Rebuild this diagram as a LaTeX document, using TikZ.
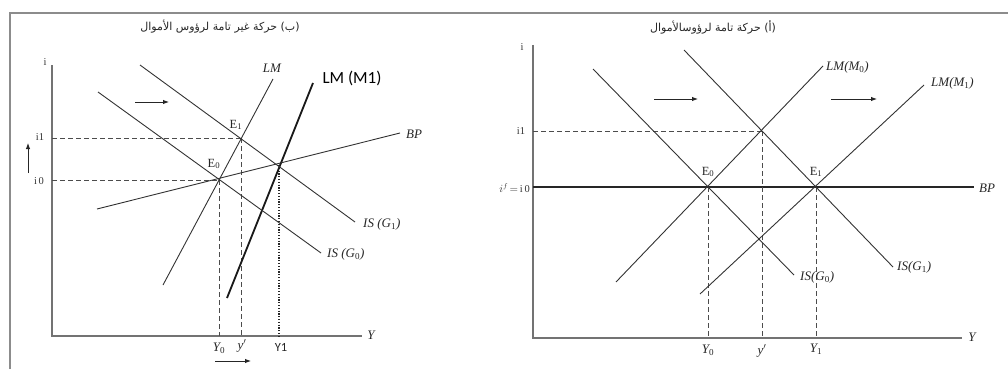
\documentclass[tikz,border=0pt]{standalone}
\usepackage{fontspec}
\setmainfont{Liberation Serif}
\newfontfamily\sansf{Carlito}
\newfontfamily\arabicfont[Script=Arabic]{DejaVu Sans}
\TeXXeTstate=1
\usetikzlibrary{arrows.meta}
\newcommand{\sbu}[1]{\textsubscript{\upshape #1}}
\tikzset{
  frameline/.style={draw=black!45, line width=1.6pt},
  axisline/.style={draw=black!55, line width=1.3pt},
  curve/.style={draw=black!80, line width=0.9pt},
  thickcurve/.style={draw=black!90, line width=1.8pt},
  dashline/.style={draw=black!70, line width=0.8pt, dash pattern=on 5pt off 3pt},
  dotline/.style={draw=black!85, line width=1.4pt, dash pattern=on 1.2pt off 1.6pt},
  shiftarrow/.style={draw=black!85, line width=0.9pt, -{Latex[length=6pt,width=4.5pt]}},
  lab/.style={font=\fontsize{13}{15}\selectfont\itshape, text=black!85, inner sep=1pt},
  uplab/.style={font=\fontsize{12.5}{14}\selectfont, text=black!85, inner sep=1pt},
  smalllab/.style={font=\fontsize{10.5}{12}\selectfont, text=black!80, inner sep=1pt},
  titlelab/.style={font=\fontsize{11}{13}\arabicfont, text=black!85, inner sep=1pt}
}
\begin{document}
\begin{tikzpicture}[x=1pt,y=-1pt]
\useasboundingbox (0,0) rectangle (1008,369);
% frame
\coordinate (fb) at (10,369);
\coordinate (fc) at (10,13);
\coordinate (fr) at (1008,13);
\draw[frameline] (fb) -- (fc) -- (fr);

% ================= left panel =================
\node[titlelab] (ltitle) at (220,27) {\beginR(ب) حركة غير تامة لرؤوس الأموال\endR};
\coordinate (liTop) at (52,65);
\coordinate (lO) at (52,336);
\coordinate (lYend) at (362,336);
\draw[axisline] (liTop) -- (lO) -- (lYend);
\node[smalllab] (li) at (45,62) {i};
\node[lab] (lY) at (371,335) {Y};
\node[smalllab] (li1) at (40,137) {i1};
\node[smalllab] (li0) at (39,181) {i\,0};

\coordinate (E0l) at (219,180);
\coordinate (E1l) at (241.5,138);
\coordinate (Xl) at (279,165);
\coordinate (li1a) at (52,138);
\coordinate (li0a) at (52,180);
\coordinate (lY0) at (219,336);
\coordinate (lYp) at (241.5,336);
\coordinate (lY1) at (279,336);
\draw[dashline] (li1a) -- (E1l);
\draw[dashline] (li0a) -- (E0l);
\draw[dashline] (E0l) -- (lY0);
\draw[dashline] (E1l) -- (lYp);
\draw[dotline] (Xl) -- (lY1);

% curves
\coordinate (lLMa) at (163,285);
\coordinate (lLMb) at (273,79);
\draw[curve] (lLMa) -- (lLMb);
\coordinate (lLM1a) at (227,298);
\coordinate (lLM1b) at (313,83);
\draw[thickcurve] (lLM1a) -- (lLM1b);
\coordinate (lBPa) at (97,209);
\coordinate (lBPb) at (400,133);
\draw[curve] (lBPa) -- (lBPb);
\coordinate (lIS0a) at (98,92);
\coordinate (lIS0b) at (321,253);
\draw[curve] (lIS0a) -- (lIS0b);
\coordinate (lIS1a) at (140,65);
\coordinate (lIS1b) at (355,222);
\draw[curve] (lIS1a) -- (lIS1b);

\node[lab] (lLMlab) at (272,68) {LM};
\node[font=\fontsize{17}{19}\sansf, text=black, inner sep=1pt] (lLM1lab) at (352,78) {LM (M1)};
\node[lab, anchor=west] (lBPlab) at (405,134) {BP};
\node[lab, anchor=west] (lIS1lab) at (362,224) {IS (G\sbu{1})};
\node[lab, anchor=west] (lIS0lab) at (326,254) {IS (G\sbu{0})};
\node[uplab] (lE1lab) at (236,125) {E\textsubscript{1}};
\node[uplab] (lE0lab) at (214,164) {E\textsubscript{0}};
\node[lab] (lY0lab) at (219,348) {Y\sbu{0}};
\node[lab] (lYplab) at (242,346) {y$'$};
\node[font=\fontsize{12.5}{14}\sansf, text=black!85, inner sep=1pt] (lY1lab) at (281,347) {Y1};

% shift arrows
\coordinate (la1a) at (135,102);
\coordinate (la1b) at (169,102);
\draw[shiftarrow] (la1a) -- (la1b);
\coordinate (la2a) at (28,173);
\coordinate (la2b) at (28,143);
\draw[shiftarrow] (la2a) -- (la2b);
\coordinate (la3a) at (215,361);
\coordinate (la3b) at (251,361);
\draw[shiftarrow] (la3a) -- (la3b);

% ================= right panel =================
\node[titlelab] (rtitle) at (713,27) {\beginR(أ) حركة تامة لرؤوسالأموال\endR};
\coordinate (riTop) at (533,45);
\coordinate (rO) at (533,338);
\coordinate (rYend) at (962,338);
\draw[axisline] (riTop) -- (rO) -- (rYend);
\node[smalllab] (ri) at (522,47) {i};
\node[lab] (rY) at (972,337) {Y};
\node[smalllab] (ri1) at (521,131) {i1};
\node[smalllab, anchor=east] (ri0) at (531,188) {$i^f\!=$\,i\,0};

\coordinate (E0r) at (708,187);
\coordinate (E1r) at (816,187);
\coordinate (Xr) at (762,131);
\coordinate (rBPa) at (533,187);
\coordinate (rBPb) at (974,187);
\draw[draw=black!85, line width=1.5pt] (rBPa) -- (rBPb);
\node[lab, anchor=west] (rBPlab) at (978,188) {BP};

\coordinate (ri1a) at (533,131);
\draw[dashline] (ri1a) -- (Xr);
\coordinate (rY0) at (708,338);
\coordinate (rYp) at (762,338);
\coordinate (rY1) at (816,338);
\draw[dashline] (E0r) -- (rY0);
\draw[dashline] (Xr) -- (rYp);
\draw[dashline] (E1r) -- (rY1);

\coordinate (rLM0a) at (616,282);
\coordinate (rLM0b) at (823,66);
\draw[curve] (rLM0a) -- (rLM0b);
\coordinate (rLM1a) at (700,294);
\coordinate (rLM1b) at (924,85);
\draw[curve] (rLM1a) -- (rLM1b);
\coordinate (rIS0a) at (593,69);
\coordinate (rIS0b) at (794,275);
\draw[curve] (rIS0a) -- (rIS0b);
\coordinate (rIS1a) at (684,50);
\coordinate (rIS1b) at (893,267);
\draw[curve] (rIS1a) -- (rIS1b);

\node[lab, anchor=west] (rLM0lab) at (825,67) {LM(M\sbu{0})};
\node[lab, anchor=west] (rLM1lab) at (930,83) {LM(M\sbu{1})};
\node[lab, anchor=west] (rIS0lab) at (799,277) {IS(G\sbu{0})};
\node[lab, anchor=west] (rIS1lab) at (896,267) {IS(G\sbu{1})};
\node[uplab] (rE0lab) at (708,172) {E\textsubscript{0}};
\node[uplab] (rE1lab) at (816,172) {E\textsubscript{1}};
\node[lab] (rY0lab) at (708,350) {Y\sbu{0}};
\node[lab] (rYplab) at (762,351) {y$'$};
\node[lab] (rY1lab) at (816,349) {Y\sbu{1}};

\coordinate (ra1a) at (654,99);
\coordinate (ra1b) at (698,99);
\draw[shiftarrow] (ra1a) -- (ra1b);
\coordinate (ra2a) at (831,99);
\coordinate (ra2b) at (877,99);
\draw[shiftarrow] (ra2a) -- (ra2b);
\end{tikzpicture}
\end{document}
